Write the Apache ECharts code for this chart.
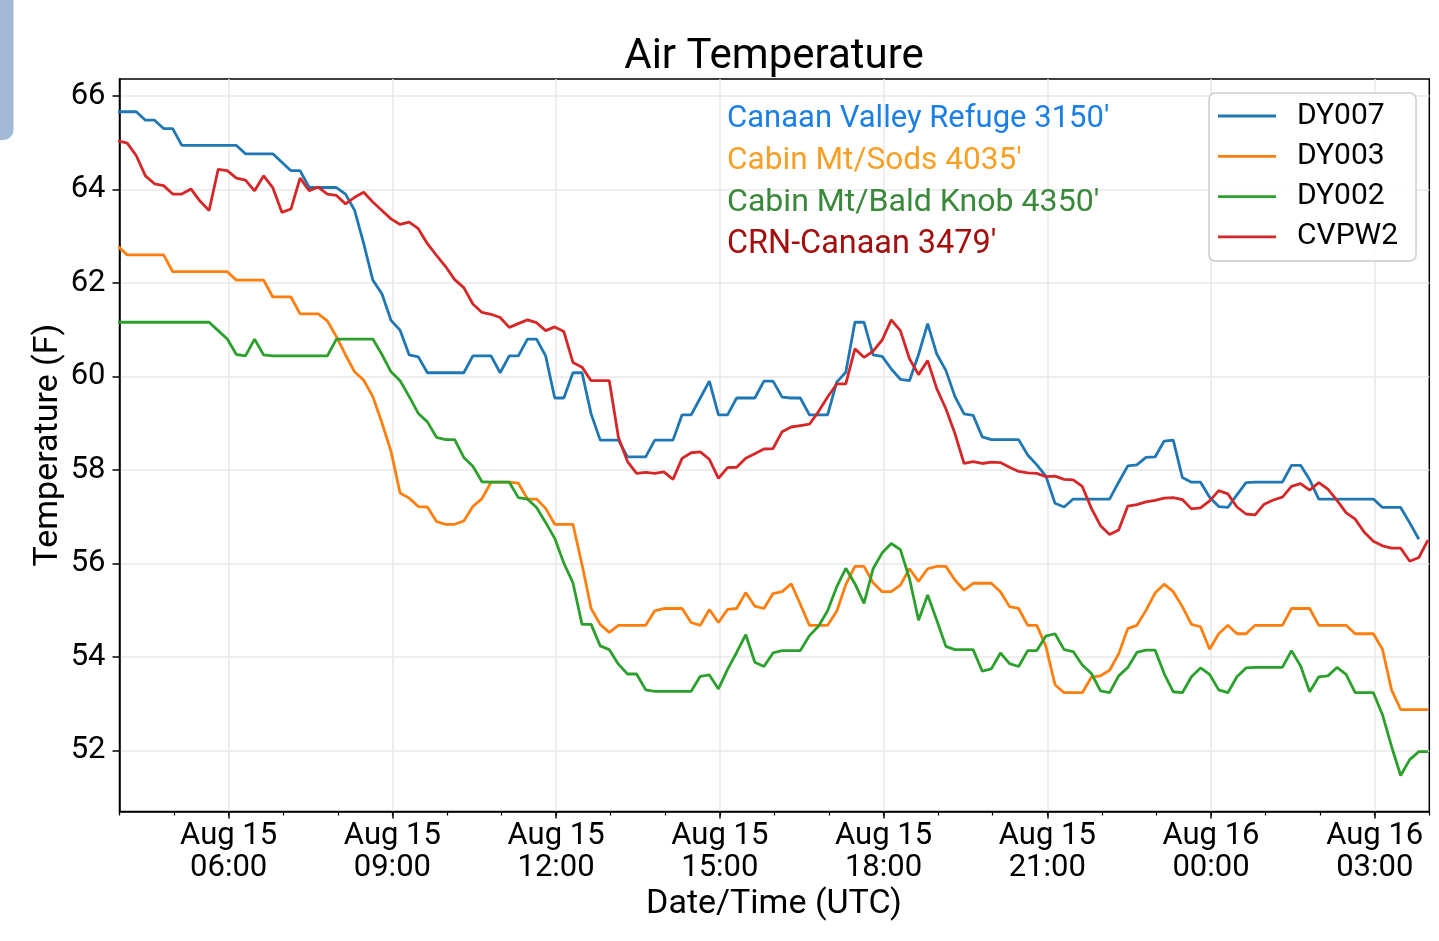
<!DOCTYPE html>
<html>
<head>
<meta charset="utf-8">
<script src="https://cdn.jsdelivr.net/npm/echarts@6/dist/echarts.min.js"></script>
<style>
html,body{margin:0;padding:0;background:#ffffff;}
#c{width:1439px;height:941px;}
</style>
</head>
<body>
<div id="c"></div>
<script>
// ---- data (10-minute readings, Aug 15 03:58:30 UTC onward) ----
const seriesNames = ['DY007', 'DY003', 'DY002', 'CVPW2'];
const stationLabels = ["Canaan Valley Refuge 3150'", "Cabin Mt/Sods 4035'", "Cabin Mt/Bald Knob 4350'", "CRN-Canaan 3479'"];

const dy007 = [65.66,65.66,65.66,65.48,65.48,65.3,65.3,64.94,64.94,64.94,
64.94,64.94,64.94,64.94,64.76,64.76,64.76,64.76,64.58,64.4,
64.4,64.04,64.04,64.04,64.04,63.9,63.55,62.84,62.06,61.77,
61.2,60.99,60.46,60.42,60.08,60.08,60.08,60.08,60.08,60.44,
60.44,60.44,60.08,60.44,60.44,60.8,60.8,60.44,59.54,59.54,
60.08,60.08,59.2,58.64,58.64,58.64,58.28,58.28,58.28,58.64,
58.64,58.64,59.18,59.18,59.54,59.9,59.18,59.18,59.54,59.54,
59.54,59.9,59.9,59.56,59.54,59.54,59.18,59.18,59.18,59.88,
60.09,61.16,61.16,60.46,60.43,60.16,59.94,59.91,60.47,61.13,
60.48,60.13,59.57,59.2,59.17,58.71,58.65,58.65,58.65,58.65,
58.32,58.11,57.87,57.29,57.21,57.38,57.38,57.38,57.38,57.38,
57.74,58.09,58.11,58.27,58.28,58.62,58.64,57.84,57.74,57.74,
57.42,57.22,57.2,57.47,57.73,57.74,57.74,57.74,57.74,58.1,
58.1,57.79,57.38,57.38,57.38,57.38,57.38,57.38,57.38,57.2,
57.2,57.2,56.87,56.52];

const dy003 = [62.78,62.6,62.6,62.6,62.6,62.6,62.24,62.24,62.24,62.24,
62.24,62.24,62.24,62.06,62.06,62.06,62.06,61.7,61.7,61.7,
61.34,61.34,61.34,61.19,60.85,60.46,60.1,59.92,59.57,59.01,
58.4,57.51,57.4,57.22,57.21,56.9,56.84,56.84,56.91,57.22,
57.39,57.74,57.74,57.74,57.72,57.38,57.38,57.18,56.84,56.84,
56.84,55.98,55.04,54.7,54.53,54.68,54.68,54.68,54.68,54.99,
55.04,55.04,55.04,54.74,54.68,55.02,54.74,55.02,55.04,55.38,
55.09,55.04,55.36,55.4,55.57,55.13,54.68,54.68,54.68,54.98,
55.55,55.94,55.94,55.59,55.4,55.4,55.54,55.89,55.62,55.89,
55.94,55.94,55.65,55.43,55.58,55.58,55.58,55.4,55.08,55.04,
54.68,54.68,54.23,53.41,53.24,53.24,53.24,53.57,53.6,53.72,
54.07,54.61,54.68,55.0,55.37,55.56,55.4,55.08,54.7,54.65,
54.17,54.5,54.68,54.5,54.5,54.68,54.68,54.68,54.68,55.04,
55.04,55.04,54.68,54.68,54.68,54.68,54.5,54.5,54.5,54.17,
53.3,52.88,52.88,52.88,52.88];

const dy002 = [61.16,61.16,61.16,61.16,61.16,61.16,61.16,61.16,61.16,61.16,
61.16,60.98,60.8,60.47,60.44,60.8,60.46,60.44,60.44,60.44,
60.44,60.44,60.44,60.44,60.8,60.8,60.8,60.8,60.8,60.47,
60.1,59.91,59.57,59.21,59.03,58.7,58.65,58.65,58.27,58.08,
57.75,57.74,57.74,57.74,57.41,57.38,57.2,56.88,56.54,56.01,
55.59,54.7,54.7,54.24,54.16,53.85,53.64,53.64,53.3,53.27,
53.27,53.27,53.27,53.27,53.59,53.62,53.32,53.74,54.1,54.48,
53.89,53.8,54.09,54.14,54.14,54.14,54.46,54.66,54.99,55.5,
55.9,55.57,55.15,55.89,56.23,56.43,56.3,55.68,54.79,55.33,
54.79,54.23,54.16,54.16,54.16,53.7,53.75,54.09,53.86,53.8,
54.14,54.14,54.45,54.5,54.16,54.12,53.83,53.65,53.28,53.24,
53.6,53.78,54.1,54.15,54.15,53.65,53.26,53.24,53.58,53.77,
53.63,53.3,53.24,53.58,53.77,53.78,53.78,53.78,53.78,54.14,
53.81,53.26,53.58,53.6,53.78,53.63,53.24,53.24,53.24,52.77,
52.09,51.47,51.81,51.98,51.98];

const cvpw2 = [65.04,64.99,64.72,64.29,64.12,64.08,63.90,63.90,64.01,63.75,
63.55,64.43,64.40,64.24,64.20,63.97,64.29,64.04,63.51,63.58,
64.24,63.97,64.05,63.90,63.87,63.69,63.83,63.94,63.73,63.55,
63.37,63.25,63.30,63.16,62.84,62.59,62.35,62.07,61.90,61.55,
61.37,61.33,61.26,61.05,61.13,61.21,61.15,60.98,61.06,60.96,
60.30,60.20,59.91,59.91,59.91,58.70,58.18,57.93,57.95,57.93,
57.96,57.80,58.25,58.37,58.39,58.23,57.82,58.05,58.06,58.25,
58.35,58.45,58.46,58.82,58.92,58.95,58.98,59.25,59.56,59.84,
59.84,60.59,60.41,60.54,60.78,61.21,60.98,60.38,60.04,60.34,
59.74,59.31,58.78,58.14,58.18,58.14,58.17,58.16,58.06,57.97,
57.94,57.93,57.86,57.87,57.80,57.79,57.65,57.18,56.81,56.62,
56.72,57.23,57.26,57.32,57.35,57.40,57.41,57.37,57.17,57.19,
57.34,57.56,57.49,57.21,57.06,57.04,57.27,57.36,57.42,57.65,
57.71,57.57,57.73,57.59,57.35,57.09,56.95,56.67,56.48,56.38,
56.33,56.33,56.05,56.13,56.50];

// x in hours since Aug 15 00:00 UTC
const startHour = 3 + 58.5 / 60;
const stepHours = 10 / 60;
const xTickHours = [6, 9, 12, 15, 18, 21, 24, 27];
const xTickLabels = ['Aug 15\n06:00', 'Aug 15\n09:00', 'Aug 15\n12:00', 'Aug 15\n15:00',
                     'Aug 15\n18:00', 'Aug 15\n21:00', 'Aug 16\n00:00', 'Aug 16\n03:00'];
const yTicks = [52, 54, 56, 58, 60, 62, 64, 66];

const lineColors = ['#1f77b4', '#ff7f0e', '#2ca02c', '#d62728'];
const labelColors = ['#1c7fe6', '#f8a026', '#3a883a', '#a30e0e'];

function toPairs(arr) { return arr.map((v, i) => [startHour + i * stepHours, v]); }

const FONT = 'Roboto';
const chart = echarts.init(document.getElementById('c'), null, { renderer: 'canvas' });

const values = [dy007, dy003, dy002, cvpw2];
const series = seriesNames.map((name, i) => ({
  name: name,
  type: 'line',
  xAxisIndex: 0,
  data: toPairs(values[i]),
  symbol: 'none',
  showSymbol: false,
  clip: true,
  lineStyle: { color: lineColors[i], width: 2.8 },
  itemStyle: { color: lineColors[i] },
  emphasis: { disabled: true },
  z: 3
}));

const graphics = [
  { type: 'rect', shape: { x: -20, y: -20, width: 33.5, height: 160, r: 10 },
    style: { fill: '#a2bad6' }, z: 100 },
  { type: 'text', x: 774, y: 57,
    style: { text: 'Air Temperature', fill: '#000', font: '42px ' + FONT, align: 'center', verticalAlign: 'middle' } },
  { type: 'text', x: 774, y: 904,
    style: { text: 'Date/Time (UTC)', fill: '#000', font: '34px ' + FONT, align: 'center', verticalAlign: 'middle' } },
  { type: 'text', x: 48, y: 445, rotation: Math.PI / 2,
    style: { text: 'Temperature (F)', fill: '#000', font: '34px ' + FONT, align: 'center', verticalAlign: 'middle' } }
];
const annotY = [119, 161, 203, 245];
const annotSize = [31, 31.6, 32.1, 32.4];
stationLabels.forEach((t, i) => {
  graphics.push({ type: 'text', x: 727, y: annotY[i], z: 50,
    style: { text: t, fill: labelColors[i], font: annotSize[i] + 'px ' + FONT, align: 'left', verticalAlign: 'middle' } });
});

const option = {
  animation: false,
  backgroundColor: '#ffffff',
  grid: { left: 119.5, right: 9.7, top: 79, bottom: 129.5, show: true,
          borderColor: '#000', borderWidth: 1.5, backgroundColor: 'transparent', containLabel: false },
  xAxis: [
    { type: 'value', min: 4, max: 28, position: 'bottom',
      axisLine: { show: true, onZero: false, lineStyle: { color: '#000', width: 1.5 } },
      axisTick: { show: true, length: 7, customValues: xTickHours, lineStyle: { color: '#000', width: 1.5 } },
      axisLabel: { show: true, customValues: xTickHours, margin: 9, color: '#000', fontFamily: FONT, fontSize: 31, lineHeight: 32,
                   formatter: function (v) { const i = xTickHours.indexOf(Math.round(v)); return i >= 0 ? xTickLabels[i] : ''; } },
      splitLine: { show: true, lineStyle: { color: '#e8e8e8', width: 1.5 } }
    },
    { type: 'value', min: 4, max: 28, interval: 1, position: 'bottom', gridIndex: 0,
      axisLine: { show: false, onZero: false },
      axisTick: { show: true, length: 4, lineStyle: { color: '#000', width: 1.2 } },
      axisLabel: { show: false },
      splitLine: { show: false }
    }
  ],
  yAxis: {
    type: 'value', min: 50.70, max: 66.36,
    axisLine: { show: true, onZero: false, lineStyle: { color: '#000', width: 1.5 } },
    axisTick: { show: true, length: 7, customValues: yTicks, lineStyle: { color: '#000', width: 1.5 } },
    axisLabel: { show: true, customValues: yTicks, margin: 14, color: '#000', fontFamily: FONT, fontSize: 31, padding: [4, 0, 0, 0] },
    splitLine: { show: true, lineStyle: { color: '#e8e8e8', width: 1.5 } }
  },
  legend: {
    orient: 'vertical', left: 1209, top: 93,
    data: seriesNames,
    icon: 'rect',
    itemWidth: 58, itemHeight: 2.8, itemGap: 10.3,
    padding: [8, 18, 9, 9],
    backgroundColor: 'rgba(255,255,255,0.85)', borderColor: '#cccccc', borderWidth: 1.5, borderRadius: 6,
    textStyle: { fontFamily: FONT, fontSize: 30, color: '#000', lineHeight: 30, padding: [0, 0, 0, 16] },
    selectedMode: false
  },
  graphic: graphics,
  series: series
};
chart.setOption(option);
</script>
</body>
</html>
